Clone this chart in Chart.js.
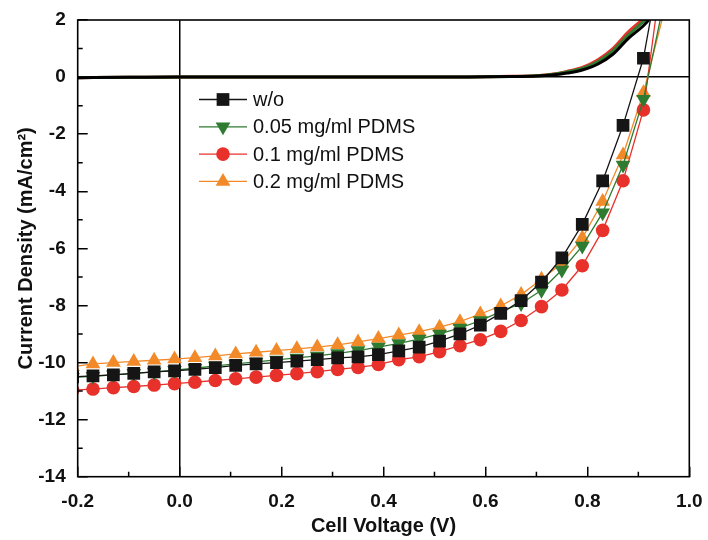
<!DOCTYPE html>
<html>
<head>
<meta charset="utf-8">
<script src="https://cdn.jsdelivr.net/npm/chart.js@4.4.1/dist/chart.umd.min.js"></script>
<style>
  html, body { margin: 0; padding: 0; background: #fff; }
  #wrap { width: 708px; height: 540px; }
</style>
</head>
<body>
<div id="wrap"><canvas id="jv" width="708" height="540"></canvas></div>
<script>
// Illuminated J-V sweep (V)
const voltage = [-0.21, -0.17, -0.13, -0.09, -0.05, -0.01, 0.03, 0.07, 0.11, 0.15,
                 0.19, 0.23, 0.27, 0.31, 0.35, 0.39, 0.43, 0.47, 0.51, 0.55,
                 0.59, 0.63, 0.67, 0.71, 0.75, 0.79, 0.83, 0.87, 0.91, 0.95];

// Current density (mA/cm2)
const jWo   = [-10.50, -10.47, -10.43, -10.38, -10.33, -10.29, -10.24, -10.18, -10.10, -10.05,
               -10.00, -9.95, -9.90, -9.84, -9.80, -9.72, -9.59, -9.46, -9.25, -9.00,
               -8.69, -8.28, -7.83, -7.18, -6.33, -5.16, -3.64, -1.69, 0.66, 4.6];
const jP005 = [-10.52, -10.48, -10.43, -10.38, -10.33, -10.27, -10.20, -10.12, -10.05, -9.98,
               -9.91, -9.84, -9.77, -9.68, -9.58, -9.46, -9.33, -9.18, -9.00, -8.79,
               -8.53, -8.22, -7.93, -7.47, -6.76, -5.92, -4.75, -3.08, -0.78, 2.6];
const jP01  = [-10.97, -10.93, -10.88, -10.84, -10.79, -10.74, -10.69, -10.63, -10.57, -10.51,
               -10.45, -10.39, -10.32, -10.24, -10.17, -10.07, -9.90, -9.80, -9.62, -9.41,
               -9.20, -8.91, -8.53, -8.04, -7.46, -6.61, -5.37, -3.63, -1.15, 4.2];
const jP02  = [-10.15, -10.05, -10.00, -9.96, -9.92, -9.88, -9.83, -9.77, -9.70, -9.64,
               -9.58, -9.52, -9.46, -9.38, -9.28, -9.16, -9.04, -8.92, -8.76, -8.57,
               -8.30, -8.02, -7.62, -7.08, -6.52, -5.64, -4.36, -2.73, -0.55, 2.25];

// Dark curves (no markers, not in legend)
const darkVoltage = [-0.21, -0.1, 0.0, 0.1, 0.2, 0.3, 0.4, 0.5, 0.55, 0.6,
                     0.65, 0.7, 0.73, 0.76, 0.79, 0.82, 0.85, 0.88, 0.91, 0.94];
const darkWo   = [-0.02, -0.01, 0, 0, 0, 0, 0, 0, 0.005, 0.01,
                  0.02, 0.04, 0.07, 0.14, 0.25, 0.45, 0.8, 1.35, 1.8, 2.4];
const darkP005 = [-0.02, -0.01, 0, 0, 0, 0, 0, 0, 0.005, 0.01,
                  0.02, 0.045, 0.09, 0.18, 0.3, 0.54, 0.92, 1.47, 1.95, 2.5];
const darkP01  = [-0.02, -0.01, 0, 0, 0, 0, 0, 0, 0.005, 0.012,
                  0.025, 0.05, 0.1, 0.2, 0.34, 0.6, 1.0, 1.58, 2.05, 2.6];

const seriesLabels = ['w/o', '0.05 mg/ml PDMS', '0.1 mg/ml PDMS', '0.2 mg/ml PDMS'];
const xTicks = [-0.2, 0.0, 0.2, 0.4, 0.6, 0.8, 1.0];
const yTicks = [2, 0, -2, -4, -6, -8, -10, -12, -14];
const xMinor = [-0.1, 0.1, 0.3, 0.5, 0.7, 0.9];
const yMinor = [1, -1, -3, -5, -7, -9, -11, -13];

const BLACK = '#151515';
const GREEN = '#2e7b31';
const RED = '#e8312b';
const ORANGE = '#f28a2a';
const FONT = '"Liberation Sans", Arial, Helvetica, sans-serif';

function pairs(xs, ys) {
    return xs.map((x, i) => ({ x: x, y: ys[i] }));
}

function lightSet(label, ys, color, style, radius, rotation) {
    return {
        label,
        data: pairs(voltage, ys),
        borderColor: color,
        backgroundColor: color,
        borderWidth: 1.3,
        pointStyle: style,
        pointRadius: radius,
        pointRotation: rotation,
        pointBorderWidth: 0,
        pointBackgroundColor: color,
        tension: 0
    };
}

function darkSet(ys, color) {
    return {
        label: 'dark',
        data: pairs(darkVoltage, ys),
        borderColor: color,
        borderWidth: 3,
        pointRadius: 0,
        cubicInterpolationMode: 'monotone'
    };
}

// Scales add their own label overflow padding; the layout padding decides instead
function noPadding(s) {
    s.paddingTop = 0;
    s.paddingBottom = 0;
    s.paddingLeft = 0;
    s.paddingRight = 0;
}

// Frame box and minor inward ticks
const framePlugin = {
    id: 'frame',
    afterDatasetsDraw(chart) {
        const { ctx, chartArea: a, scales } = chart;
        ctx.save();
        ctx.strokeStyle = '#000';
        ctx.lineWidth = 1.6;
        ctx.strokeRect(a.left, a.top, a.right - a.left, a.bottom - a.top);
        ctx.lineWidth = 1.5;
        ctx.beginPath();
        xMinor.forEach(v => {
            const px = scales.x.getPixelForValue(v);
            ctx.moveTo(px, a.bottom);
            ctx.lineTo(px, a.bottom - 5);
        });
        yMinor.forEach(v => {
            const py = scales.y.getPixelForValue(v);
            ctx.moveTo(a.left, py);
            ctx.lineTo(a.left + 5, py);
        });
        ctx.stroke();
        ctx.restore();
    }
};

// Legend drawn inside the plot area
const legendPlugin = {
    id: 'insideLegend',
    afterDraw(chart) {
        const ctx = chart.ctx;
        const x0 = 199, x1 = 247, textX = 253, top = 99.5, gap = 27.3;
        ctx.save();
        ctx.font = '20px ' + FONT;
        ctx.textBaseline = 'middle';
        ctx.textAlign = 'left';
        seriesLabels.forEach((label, i) => {
            const ds = chart.data.datasets[i];
            const y = top + i * gap;
            ctx.strokeStyle = ds.borderColor;
            ctx.lineWidth = 1.3;
            ctx.beginPath();
            ctx.moveTo(x0, y);
            ctx.lineTo(x1, y);
            ctx.stroke();
            ctx.fillStyle = ds.pointBackgroundColor;
            Chart.helpers.drawPoint(ctx, {
                pointStyle: ds.pointStyle,
                radius: ds.pointRadius,
                rotation: ds.pointRotation,
                borderWidth: 0
            }, (x0 + x1) / 2, y);
            ctx.fillStyle = '#111';
            ctx.fillText(label, textX, y + 1);
        });
        ctx.restore();
    }
};

const zeroLine = c => (c.tick && c.tick.value === 0) ? '#000' : 'rgba(0,0,0,0)';

new Chart(document.getElementById('jv'), {
    type: 'line',
    data: {
        datasets: [
            lightSet(seriesLabels[0], jWo, BLACK, 'rect', 9, 0),
            lightSet(seriesLabels[1], jP005, GREEN, 'triangle', 8.5, 180),
            lightSet(seriesLabels[2], jP01, RED, 'circle', 6.8, 0),
            lightSet(seriesLabels[3], jP02, ORANGE, 'triangle', 8.5, 0),
            darkSet(darkWo, '#000'),
            darkSet(darkP005, GREEN),
            darkSet(darkP01, RED)
        ]
    },
    options: {
        responsive: false,
        animation: false,
        devicePixelRatio: 1,
        layout: { padding: { top: 20, right: 18.7, left: 0, bottom: 0 } },
        plugins: {
            legend: { display: false },
            tooltip: { enabled: false }
        },
        scales: {
            x: {
                type: 'linear',
                min: -0.2,
                max: 1.0,
                afterBuildTicks: s => { s.ticks = xTicks.map(v => ({ value: v })); },
                afterFit: s => { s.height = 63.3; noPadding(s); },
                ticks: {
                    color: '#111',
                    font: { family: FONT, size: 19, weight: 'bold' },
                    padding: 24,
                    maxRotation: 0,
                    callback: v => v.toFixed(1)
                },
                grid: {
                    color: zeroLine,
                    lineWidth: 1.5,
                    tickColor: '#000',
                    tickWidth: 1.5,
                    tickLength: -10
                },
                border: { display: false },
                title: {
                    display: true,
                    text: 'Cell Voltage (V)',
                    color: '#111',
                    font: { family: FONT, size: 20, weight: 'bold' },
                    padding: { top: 0, bottom: 2 }
                }
            },
            y: {
                min: -14,
                max: 2,
                afterBuildTicks: s => { s.ticks = yTicks.map(v => ({ value: v })); },
                afterFit: s => { s.width = 77.7; noPadding(s); },
                ticks: {
                    color: '#111',
                    font: { family: FONT, size: 19, weight: 'bold' },
                    padding: 22
                },
                grid: {
                    color: zeroLine,
                    lineWidth: 1.5,
                    tickColor: '#000',
                    tickWidth: 1.5,
                    tickLength: -10
                },
                border: { display: false },
                title: {
                    display: true,
                    text: 'Current Density (mA/cm\u00B2)',
                    color: '#111',
                    font: { family: FONT, size: 20, weight: 'bold' },
                    padding: { top: 14, bottom: 0 }
                }
            }
        }
    },
    plugins: [framePlugin, legendPlugin]
});
</script>
</body>
</html>
